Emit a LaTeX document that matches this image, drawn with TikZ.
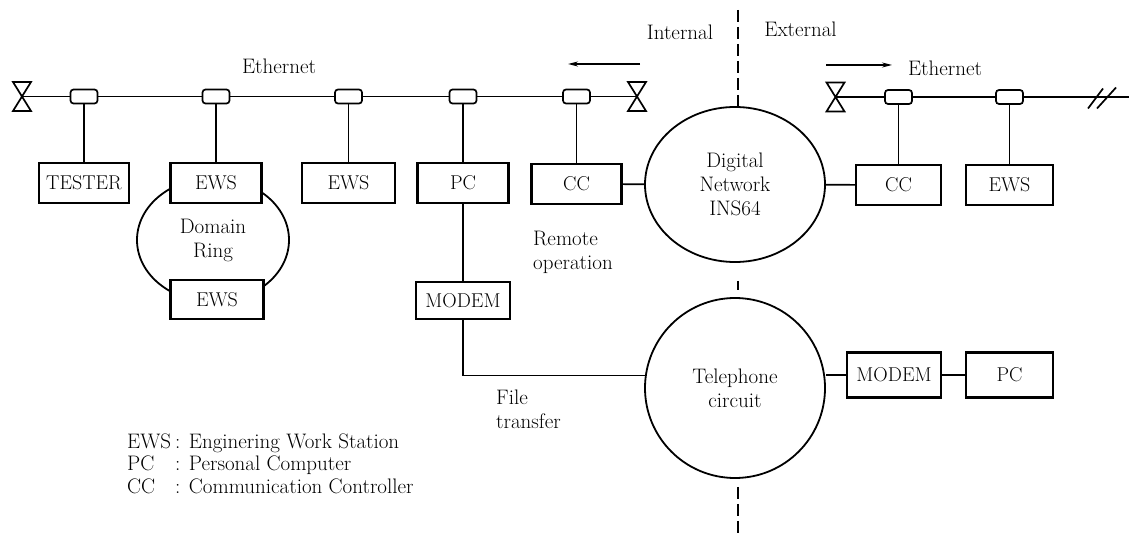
\documentclass[tikz,border=0pt]{standalone}
\usepackage{fontspec}
\usetikzlibrary{shapes.geometric,arrows.meta,calc}

\begin{document}
\begin{tikzpicture}[x=1pt,y=-1pt,
  font=\fontsize{21}{24}\selectfont,
  wire/.style={line width=1.7pt},
  box/.style={draw, line width=2.1pt, fill=white, minimum height=40pt,
    inner sep=0pt, font=\fontsize{20}{24}\selectfont},
  tap/.style={draw, line width=1.7pt, fill=white, rounded corners=3pt,
    minimum width=27pt, minimum height=14pt, inner sep=0pt},
  net/.style={draw, ellipse, line width=1.8pt, inner sep=0pt, align=center},
  lbl/.style={inner sep=0pt, align=left},
  divider/.style={line width=1.5pt, dash pattern=on 12pt off 5pt},
  flow/.style={line width=1.4pt, -{Stealth[length=10pt,width=5pt]}},
  terminator/.pic={\draw[line width=1.7pt, line join=miter]
    (-9,-14.5) -- (9,-14.5) -- (-9,14.5) -- (9,14.5) -- cycle;}
]
\useasboundingbox (0,0) rectangle (1129,537);

% ---------- internal Ethernet ----------
\coordinate (tL) at (22,96.5);
\coordinate (tR) at (637,96.5);
\node[tap] (t1) at (84,96.5) {};
\node[tap] (t2) at (216,96.5) {};
\node[tap] (t3) at (348.5,96.5) {};
\node[tap] (t4) at (463,96.5) {};
\node[tap] (t5) at (576.5,96.5) {};
\draw[wire] (tL) -- (t1) -- (t2) -- (t3) -- (t4) -- (t5) -- (tR);
\pic at (tL) {terminator};
\pic at (tR) {terminator};

% Domain ring (behind its two workstations)
\node[net, minimum width=152pt, minimum height=124pt] (ring) at (213,240) {Domain\\Ring};

\node[box, minimum width=90pt] (tester) at (84,183) {TESTER};
\node[box, minimum width=91pt] (ews1) at (216,183) {EWS};
\node[box, minimum width=93pt, minimum height=39pt] (ews1b) at (217,299.5) {EWS};
\node[box, minimum width=93pt] (ews2) at (348.5,183) {EWS};
\node[box, minimum width=91pt] (pc1) at (463,183) {PC};
\node[box, minimum width=90pt] (cc1) at (576.5,184) {CC};
\node[box, minimum width=94pt, minimum height=37pt] (modem1) at (463,300.5) {MODEM};

\draw[wire] (t1) -- (tester);
\draw[wire] (t2) -- (ews1);
\draw[wire] (t3) -- (ews2);
\draw[wire] (t4) -- (pc1);
\draw[wire] (t5) -- (cc1);
\draw[wire] (pc1) -- (modem1);

% ---------- public networks ----------
\node[net, minimum width=180pt, minimum height=155pt] (digital) at (735,184.5)
  {Digital\\Network\\INS64};
\node[net, minimum width=180pt, minimum height=180pt] (tel) at (735,388)
  {Telephone\\circuit};

% ---------- external Ethernet ----------
\coordinate (tX) at (835.5,97);
\coordinate (busEnd) at (1129,97);
\coordinate (brk) at (1102,97.5);
\node[tap] (t6) at (898.5,97) {};
\node[tap] (t7) at (1009.5,97) {};
\draw[wire] (tX) -- (t6) -- (t7) -- (busEnd);
\draw[wire] ($(brk)+(-14,11)$) -- ($(brk)+(1,-9)$);
\draw[wire] ($(brk)+(-5,11)$) -- ($(brk)+(14,-10)$);
\pic at (tX) {terminator};

\node[box, minimum width=85pt] (cc2) at (898.5,185) {CC};
\node[box, minimum width=87pt] (ews4) at (1009.5,185) {EWS};
\node[box, minimum width=94pt, minimum height=45pt] (modem2) at (894,375) {MODEM};
\node[box, minimum width=87pt, minimum height=45pt] (pc2) at (1009.5,375) {PC};

\draw[wire] (t6) -- (cc2);
\draw[wire] (t7) -- (ews4);

% ---------- links through the networks ----------
\draw[wire] (cc1) -- (digital);
\draw[wire] (digital) -- (cc2);
\draw[wire] (modem1.south) |- (tel.172);
\draw[wire] (modem2.west) -- (modem2.west -| tel.east);
\draw[wire] (modem2) -- (pc2);

% ---------- internal / external boundary ----------
\coordinate (dTop) at (738,10);
\coordinate (dBot) at (738,537);
\draw[divider] (dTop) -- (dTop |- digital.north);
\draw[divider] ($(dTop |- digital.south)+(0,18)$) -- ++(0,9);
\draw[divider] ($(dBot |- tel.south)+(0,8)$) -- (dBot);

\coordinate (inA) at (640,64);
\coordinate (inB) at (568,64);
\coordinate (exA) at (826,65);
\coordinate (exB) at (892,65);
\draw[flow] (inA) -- (inB);
\draw[flow] (exA) -- (exB);

% ---------- labels ----------
\node[lbl] (ethL) at (279,66) {Ethernet};
\node[lbl] (internal) at (680,32) {Internal};
\node[lbl] (external) at (800.5,29) {External};
\node[lbl] (ethR) at (945,68.5) {Ethernet};
\node[lbl, anchor=west] (remote) at (533,252) {Remote\\operation};
\node[lbl, anchor=west] (file) at (496,409) {File\\transfer};

\node[lbl, anchor=west, font=\fontsize{21}{22.5}\selectfont] (legend) at (127,466)
  {\begin{tabular}{@{}l@{\hspace{4pt}}l@{}}
   EWS & : Enginering Work Station\\
   PC  & : Personal Computer\\
   CC  & : Communication Controller
   \end{tabular}};
\end{tikzpicture}
\end{document}
